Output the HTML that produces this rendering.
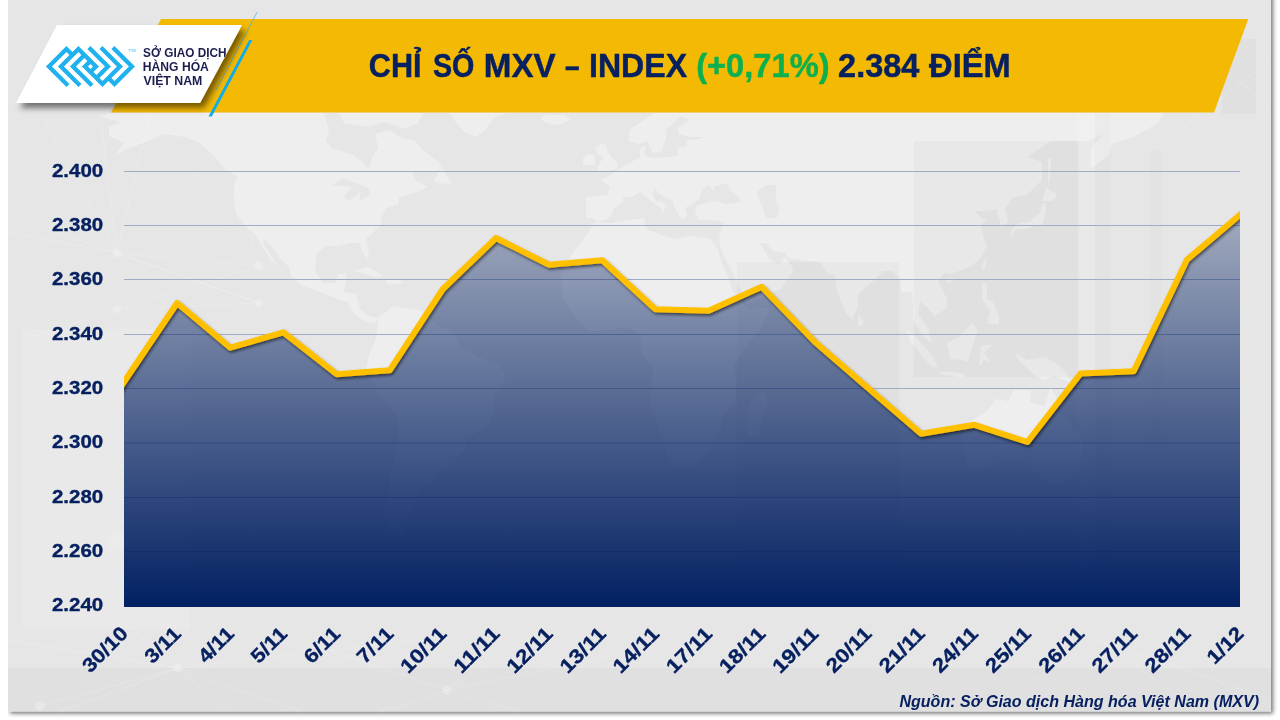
<!DOCTYPE html>
<html lang="vi">
<head>
<meta charset="utf-8">
<title>Chỉ số MXV-Index</title>
<style>
html,body{margin:0;padding:0;background:#ffffff;}
body{width:1280px;height:720px;overflow:hidden;position:relative;font-family:"Liberation Sans",sans-serif;}
svg{will-change:transform;position:absolute;left:0;top:0;display:block;}
svg text{font-family:"Liberation Sans",sans-serif;font-weight:bold;}
</style>
</head>
<body>
<svg width="1280" height="720" viewBox="0 0 1280 720">
<defs>
<linearGradient id="areaG" x1="0" y1="214" x2="0" y2="607" gradientUnits="userSpaceOnUse">
<stop offset="0" stop-color="#022062" stop-opacity="0.30"/>
<stop offset="1" stop-color="#022062" stop-opacity="1"/>
</linearGradient>
<filter id="panelSh" x="-5%" y="-5%" width="110%" height="110%">
<feDropShadow dx="2" dy="2" stdDeviation="2.2" flood-color="#000" flood-opacity="0.55"/>
</filter>
<filter id="logoSh" x="-20%" y="-30%" width="140%" height="170%">
<feDropShadow dx="4" dy="5" stdDeviation="3.3" flood-color="#000" flood-opacity="0.52"/>
</filter>
<filter id="lineSh" x="-5%" y="-10%" width="110%" height="130%">
<feDropShadow dx="1.2" dy="2" stdDeviation="1.7" flood-color="#000" flood-opacity="0.55"/>
</filter>
<clipPath id="areaClip"><path d="M124.0,607 L124.0,382.0 L177.1,303.0 L230.3,347.7 L283.4,332.3 L336.6,374.2 L389.7,370.3 L442.9,289.0 L496.0,238.0 L549.1,264.7 L602.3,260.3 L655.4,309.3 L708.6,310.7 L761.7,286.8 L814.9,342.0 L868.0,388.0 L921.1,433.7 L974.3,424.8 L1027.4,442.0 L1080.6,373.5 L1133.7,371.3 L1186.9,259.8 L1240.0,214.8 L1240.0,607 Z"/></clipPath>
<clipPath id="mapClip"><rect x="8" y="113" width="1157" height="494"/></clipPath>
<filter id="soft" x="-2%" y="-2%" width="104%" height="104%"><feGaussianBlur stdDeviation="0.5"/></filter>
<clipPath id="plotClip"><rect x="124" y="150" width="1116" height="470"/></clipPath>
<clipPath id="logoClip"><polygon points="57,25 242,25 200,103 16,103"/></clipPath>
</defs>

<!-- grey panel -->
<rect x="8" y="-10" width="1263" height="721.5" fill="#e6e6e6" filter="url(#panelSh)"/>
<rect x="0" y="0" width="8" height="720" fill="#ffffff"/>
<!-- faint backdrop: world map, panels, network -->
<g clip-path="url(#mapClip)">
<path d="M99,116 L118,111 L308,111 L323,111 L329,130 L326,141 L332,148 L353,155 L363,162 L369,169 L372,158 L378,148 L375,134 L390,130 L399,137 L415,141 L424,151 L439,162 L442,169 L430,172 L412,172 L415,180 L427,187 L412,194 L399,197 L399,204 L387,208 L381,218 L381,225 L366,239 L369,253 L367,260 L363,253 L360,243 L350,243 L338,246 L326,246 L317,253 L315,271 L323,283 L335,283 L338,274 L347,273 L344,292 L356,294 L360,309 L369,316 L378,318 L375,323 L366,322 L353,313 L347,302 L332,297 L320,292 L301,285 L291,276 L289,267 L280,258 L271,246 L265,239 L263,243 L274,260 L277,267 L271,260 L262,246 L255,234 L246,227 L237,215 L234,204 L234,187 L237,176 L225,169 L213,155 L200,143 L185,137 L164,134 L148,141 L130,148 L115,155 L124,143 L109,136 L109,127 L121,122 L106,118Z M338,111 L344,123 L369,127 L384,122 L405,129 L418,123 L424,111Z M378,318 L393,306 L405,308 L424,311 L439,327 L454,332 L460,348 L479,357 L500,366 L506,376 L494,397 L494,411 L488,425 L467,439 L464,450 L451,467 L436,471 L439,481 L424,485 L415,499 L412,513 L402,527 L405,538 L390,531 L384,513 L390,488 L390,474 L396,453 L399,418 L381,397 L366,369 L369,355 L375,341 L378,327Z M448,111 L454,120 L464,132 L476,137 L485,130 L494,118 L513,111Z M540,118 L546,123 L558,125 L571,120 L565,115 L546,115Z M586,218 L586,197 L607,195 L610,187 L600,180 L609,176 L620,169 L626,165 L635,160 L640,158 L640,148 L646,146 L644,155 L650,158 L656,158 L669,157 L678,155 L678,148 L687,146 L685,141 L699,139 L705,137 L690,137 L679,134 L678,127 L690,120 L681,116 L666,130 L666,137 L662,151 L653,153 L647,141 L638,144 L629,141 L629,130 L650,116 L656,111 L1164,111 L1158,123 L1134,137 L1112,144 L1109,155 L1091,169 L1091,148 L1103,134 L1088,141 L1051,141 L1027,157 L1042,162 L1042,180 L1027,195 L1014,197 L1005,208 L1008,222 L1001,227 L999,218 L996,209 L984,211 L975,211 L981,218 L987,218 L981,225 L984,239 L987,246 L981,257 L972,266 L959,271 L950,274 L944,273 L938,281 L947,299 L947,308 L935,316 L929,309 L920,301 L918,313 L929,330 L932,343 L923,337 L913,320 L913,306 L912,292 L901,292 L901,281 L893,271 L883,271 L877,278 L858,294 L858,306 L852,320 L846,313 L837,292 L835,274 L828,274 L819,262 L800,260 L788,258 L786,253 L773,251 L766,243 L760,243 L770,260 L779,264 L785,257 L794,269 L782,288 L760,299 L747,304 L742,292 L733,274 L721,250 L719,237 L724,222 L711,220 L699,220 L695,213 L696,206 L702,204 L714,201 L727,204 L740,202 L739,197 L730,190 L727,183 L714,187 L714,192 L708,185 L702,190 L699,199 L693,204 L685,208 L687,215 L684,220 L679,216 L673,204 L673,201 L659,194 L655,188 L652,194 L656,201 L662,202 L670,208 L666,206 L664,211 L662,215 L661,208 L652,202 L646,197 L640,192 L632,197 L623,197 L623,202 L614,208 L612,215 L607,219 L598,222 L594,218Z M595,222 L610,223 L644,218 L647,230 L659,234 L675,239 L690,236 L711,239 L718,250 L722,264 L727,274 L733,292 L745,306 L748,309 L770,308 L760,330 L745,348 L733,366 L736,383 L736,401 L721,418 L721,432 L708,452 L693,467 L675,469 L669,460 L658,429 L650,404 L653,369 L641,352 L641,334 L626,327 L607,330 L589,332 L574,316 L563,297 L561,274 L574,251 L586,236Z M597,172 L617,169 L618,163 L612,158 L607,151 L607,146 L601,143 L595,148 L598,155 L604,158 L600,162 L598,166Z M583,165 L595,165 L595,155 L589,154 L583,158Z M1011,237 L1016,229 L1027,229 L1033,226 L1042,225 L1045,215 L1046,204 L1042,204 L1040,213 L1033,218 L1030,222 L1019,223 L1011,230Z M1042,201 L1046,188 L1057,194 L1053,201Z M1048,187 L1051,172 L1051,158 L1048,158 L1048,172Z M906,329 L913,334 L932,355 L938,367 L932,367 L923,357 L910,341Z M936,371 L946,372 L953,372 L964,374 L964,378 L944,375Z M947,343 L959,337 L972,323 L978,330 L973,344 L968,362 L962,360 L950,359Z M979,367 L981,346 L994,344 L984,352 L990,362 L984,360Z M1014,352 L1027,360 L1045,357 L1057,364 L1065,371 L1072,383 L1054,376 L1045,380 L1036,376 L1020,362Z M982,283 L987,283 L987,299 L993,302 L999,316 L999,325 L987,323 L990,311 L982,299Z M962,425 L962,439 L967,466 L975,471 L993,466 L1008,459 L1024,462 L1036,471 L1045,481 L1060,485 L1072,478 L1082,460 L1082,439 L1069,423 L1060,415 L1059,401 L1050,387 L1045,406 L1030,402 L1031,390 L1014,390 L1008,401 L996,399 L987,411 L972,420Z M858,315 L864,322 L861,327 L858,325Z M763,390 L768,402 L757,436 L748,436 L747,422 L750,404Z M984,260 L987,260 L984,271 L981,267Z M947,278 L953,278 L950,284 L946,282Z M353,271 L369,267 L384,276 L376,278 L363,273Z M386,279 L399,279 L404,283 L387,285Z M433,181 L442,167 L451,183 L444,184Z M757,192 L766,185 L776,185 L776,201 L779,208 L777,218 L766,218 L763,208 L759,199Z M332,185 L344,178 L355,183 L369,188 L370,195 L360,201 L360,192 L349,201 L344,197 L352,187Z" fill="#ffffff" fill-opacity="0.31" fill-rule="evenodd" filter="url(#soft)"/>
</g>
<g fill="#000000" fill-opacity="0.022">
<rect x="737" y="262" width="162" height="345"/>
<rect x="914" y="141" width="165" height="236"/>
<rect x="1095" y="113" width="16" height="494" fill-opacity="0.012"/>
<rect x="1150" y="150" width="12" height="300" fill-opacity="0.012"/>
<rect x="1222" y="39" width="34" height="75"/>
<rect x="8" y="668" width="1263" height="43.5"/>
</g>
<g fill="#ffffff" fill-opacity="0.12">
<rect x="23" y="329" width="167" height="300"/>
<rect x="1077" y="113" width="18" height="494"/>

</g>
<g stroke="#ffffff" stroke-opacity="0.17" stroke-width="1" fill="none">
<path d="M117,253 L8,150 M117,253 L40,113 M117,253 L100,113 M117,253 L150,113 M117,253 L259,266 M117,253 L8,232 M117,309 L8,345 M117,309 L259,266 M117,309 L259,303 M259,266 L150,113 M259,266 L215,113 M117,253 L259,303 M259,303 L8,215"/>
<path d="M178,668 L8,640 M178,668 L60,712 M178,668 L120,620 M178,668 L300,712 M178,668 L420,640 M178,668 L230,712"/>
<path d="M447,690 L300,640 M447,690 L380,712 M447,690 L520,712 M447,690 L640,650 M447,690 L560,620 M40,706 L178,668"/>
<path d="M1100,640 L1271,700 M1100,640 L980,712 M1100,640 L1200,712 M1150,0 L1271,110 M1271,60 L1180,130"/>
</g>
<g fill="#ffffff" fill-opacity="0.22">
<circle cx="116" cy="542" r="9" fill-opacity="0.12"/><circle cx="117" cy="253" r="4.5"/><circle cx="117" cy="309" r="4"/><circle cx="259" cy="266" r="4.5"/><circle cx="259" cy="303" r="4"/><circle cx="178" cy="668" r="4.5"/><circle cx="447" cy="690" r="4.5"/><circle cx="40" cy="706" r="5"/>
</g>

<!-- yellow banner -->
<polygon points="161,19 1248.3,19 1214,112.5 111,112.5" fill="#f4ba03"/>

<!-- gridlines -->
<g stroke="#a0abc5" stroke-width="1" fill="none">
<line x1="124" x2="1240" y1="171.5" y2="171.5"/>
<line x1="124" x2="1240" y1="225.5" y2="225.5"/>
<line x1="124" x2="1240" y1="279.5" y2="279.5"/>
<line x1="124" x2="1240" y1="334.5" y2="334.5"/>
<line x1="124" x2="1240" y1="388.5" y2="388.5"/>
<line x1="124" x2="1240" y1="443.0" y2="443.0"/>
<line x1="124" x2="1240" y1="497.5" y2="497.5"/>
<line x1="124" x2="1240" y1="551.5" y2="551.5"/>
</g>

<!-- area -->
<path d="M124.0,607 L124.0,382.0 L177.1,303.0 L230.3,347.7 L283.4,332.3 L336.6,374.2 L389.7,370.3 L442.9,289.0 L496.0,238.0 L549.1,264.7 L602.3,260.3 L655.4,309.3 L708.6,310.7 L761.7,286.8 L814.9,342.0 L868.0,388.0 L921.1,433.7 L974.3,424.8 L1027.4,442.0 L1080.6,373.5 L1133.7,371.3 L1186.9,259.8 L1240.0,214.8 L1240.0,607 Z" fill="url(#areaG)"/>

<!-- line -->
<g clip-path="url(#plotClip)">
<polyline points="112.0,399.8 124.0,382.0 177.1,303.0 230.3,347.7 283.4,332.3 336.6,374.2 389.7,370.3 442.9,289.0 496.0,238.0 549.1,264.7 602.3,260.3 655.4,309.3 708.6,310.7 761.7,286.8 814.9,342.0 868.0,388.0 921.1,433.7 974.3,424.8 1027.4,442.0 1080.6,373.5 1133.7,371.3 1186.9,259.8 1240.0,214.8 1252.0,204.6" fill="none" stroke="#ffc000" stroke-width="6" stroke-linejoin="round" stroke-linecap="butt" filter="url(#lineSh)"/>
</g>

<!-- y labels -->
<g fill="#062060" stroke="#062060" stroke-width="0.35" stroke-linejoin="round">
<text transform="translate(51.96,176.90) scale(1.0840,1)" font-size="18.9">2.400</text>
<text transform="translate(51.96,230.90) scale(1.0840,1)" font-size="18.9">2.380</text>
<text transform="translate(51.96,284.90) scale(1.0840,1)" font-size="18.9">2.360</text>
<text transform="translate(51.96,339.90) scale(1.0840,1)" font-size="18.9">2.340</text>
<text transform="translate(51.96,393.90) scale(1.0840,1)" font-size="18.9">2.320</text>
<text transform="translate(51.96,448.40) scale(1.0840,1)" font-size="18.9">2.300</text>
<text transform="translate(51.96,502.90) scale(1.0840,1)" font-size="18.9">2.280</text>
<text transform="translate(51.96,556.90) scale(1.0840,1)" font-size="18.9">2.260</text>
<text transform="translate(51.96,611.20) scale(1.0840,1)" font-size="18.9">2.240</text>
</g>
<!-- x labels -->
<g fill="#062060" stroke="#062060" stroke-width="0.3" stroke-linejoin="round">
<text transform="translate(128.60,635.30) rotate(-45) scale(1.1149,1) translate(-48.75,0)" font-size="19.8">30/10</text>
<text transform="translate(181.74,635.30) rotate(-45) scale(1.1189,1) translate(-36.95,0)" font-size="19.8">3/11</text>
<text transform="translate(234.89,635.30) rotate(-45) scale(1.1096,1) translate(-36.95,0)" font-size="19.8">4/11</text>
<text transform="translate(288.03,635.30) rotate(-45) scale(1.1189,1) translate(-36.95,0)" font-size="19.8">5/11</text>
<text transform="translate(341.17,635.30) rotate(-45) scale(1.1285,1) translate(-36.95,0)" font-size="19.8">6/11</text>
<text transform="translate(394.31,635.30) rotate(-45) scale(1.1285,1) translate(-36.95,0)" font-size="19.8">7/11</text>
<text transform="translate(447.46,635.30) rotate(-45) scale(1.1557,1) translate(-47.96,0)" font-size="19.8">10/11</text>
<text transform="translate(500.60,635.30) rotate(-45) scale(1.1834,1) translate(-46.87,0)" font-size="19.8">11/11</text>
<text transform="translate(553.74,635.30) rotate(-45) scale(1.1557,1) translate(-47.96,0)" font-size="19.8">12/11</text>
<text transform="translate(606.89,635.30) rotate(-45) scale(1.1557,1) translate(-47.96,0)" font-size="19.8">13/11</text>
<text transform="translate(660.03,635.30) rotate(-45) scale(1.1557,1) translate(-47.96,0)" font-size="19.8">14/11</text>
<text transform="translate(713.17,635.30) rotate(-45) scale(1.1557,1) translate(-47.96,0)" font-size="19.8">17/11</text>
<text transform="translate(766.31,635.30) rotate(-45) scale(1.1557,1) translate(-47.96,0)" font-size="19.8">18/11</text>
<text transform="translate(819.46,635.30) rotate(-45) scale(1.1557,1) translate(-47.96,0)" font-size="19.8">19/11</text>
<text transform="translate(872.60,635.30) rotate(-45) scale(1.1406,1) translate(-47.96,0)" font-size="19.8">20/11</text>
<text transform="translate(925.74,635.30) rotate(-45) scale(1.1406,1) translate(-47.96,0)" font-size="19.8">21/11</text>
<text transform="translate(978.89,635.30) rotate(-45) scale(1.1406,1) translate(-47.96,0)" font-size="19.8">24/11</text>
<text transform="translate(1032.03,635.30) rotate(-45) scale(1.1406,1) translate(-47.96,0)" font-size="19.8">25/11</text>
<text transform="translate(1085.17,635.30) rotate(-45) scale(1.1406,1) translate(-47.96,0)" font-size="19.8">26/11</text>
<text transform="translate(1138.31,635.30) rotate(-45) scale(1.1406,1) translate(-47.96,0)" font-size="19.8">27/11</text>
<text transform="translate(1191.46,635.30) rotate(-45) scale(1.1406,1) translate(-47.96,0)" font-size="19.8">28/11</text>
<text transform="translate(1244.60,635.30) rotate(-45) scale(1.1140,1) translate(-38.04,0)" font-size="19.8">1/12</text>
</g>

<!-- blue slanted lines -->
<line x1="257" y1="12.3" x2="216" y2="90.3" stroke="#4db4e6" stroke-width="1" stroke-opacity="0.8"/>
<polygon points="249.1,40 252.4,40 211.8,116.5 208.5,116.5" fill="#0cadee"/>

<!-- logo box -->
<polygon points="57,25 242,25 200,103 16,103" fill="#ffffff" filter="url(#logoSh)"/>
<g clip-path="url(#logoClip)">
<g transform="translate(90.44,66.47)" fill="none" stroke="#1fb2ee" stroke-width="4.31" stroke-linejoin="miter" stroke-miterlimit="10" stroke-linecap="butt">
<path d="M-22.47,19.03 L-41.5,0 L-24,-17.5 L-18,-11.5"/>
<path d="M-10.47,19.03 L-29.5,0 L-12,-17.5 L5.5,0 L0,5.5"/>
<path d="M1.53,19.03 L-17.5,0 L-6,-11.5"/>
<g transform="rotate(180)">
<path d="M-22.47,19.03 L-41.5,0 L-24,-17.5 L-18,-11.5"/>
<path d="M-10.47,19.03 L-29.5,0 L-12,-17.5 L5.5,0 L0,5.5"/>
<path d="M1.53,19.03 L-17.5,0 L-6,-11.5"/>
</g>
</g>
<text x="128.3" y="52" font-size="3.6" fill="#7fd0f3" textLength="7.5" lengthAdjust="spacingAndGlyphs">TM</text>
<g fill="#1b1d4f">
<text transform="translate(143.12,57.30) scale(0.9669,1)" font-size="12.2">SỞ GIAO DỊCH</text>
<text transform="translate(142.84,71.30) scale(0.9935,1)" font-size="12.2">HÀNG HÓA</text>
<text transform="translate(143.50,85.10) scale(1.0094,1)" font-size="12.2">VIỆT NAM</text>
</g>
</g>

<!-- title -->
<g fill="#062060" stroke="#062060" stroke-width="0.45" stroke-linejoin="round">
<text transform="translate(368.84,76.60) scale(0.9450,1)" font-size="32.4">CHỈ</text>
<text transform="translate(432.95,76.60) scale(0.8854,1)" font-size="32.4">SỐ</text>
<text transform="translate(483.83,76.60) scale(1.0242,1)" font-size="32.4">MXV</text>
<text transform="translate(564.89,76.60) scale(0.8081,1)" font-size="32.4">–</text>
<text transform="translate(588.99,76.60) scale(0.9912,1)" font-size="32.4">INDEX</text>
<text transform="translate(696.17,76.60) scale(1.0086,1)" font-size="32.4" fill="#0cb04f" stroke="#0cb04f">(+0,71%)</text>
<text transform="translate(838.08,76.60) scale(1.0028,1)" font-size="32.4">2.384</text>
<text transform="translate(929.10,76.60) scale(1.0073,1)" font-size="32.4">ĐIỂM</text>
</g>

<!-- source -->
<text x="899.4" y="706.9" font-size="16" font-style="italic" fill="#062060" textLength="359.6" lengthAdjust="spacingAndGlyphs">Nguồn: Sở Giao dịch Hàng hóa Việt Nam (MXV)</text>
</svg>
</body>
</html>
